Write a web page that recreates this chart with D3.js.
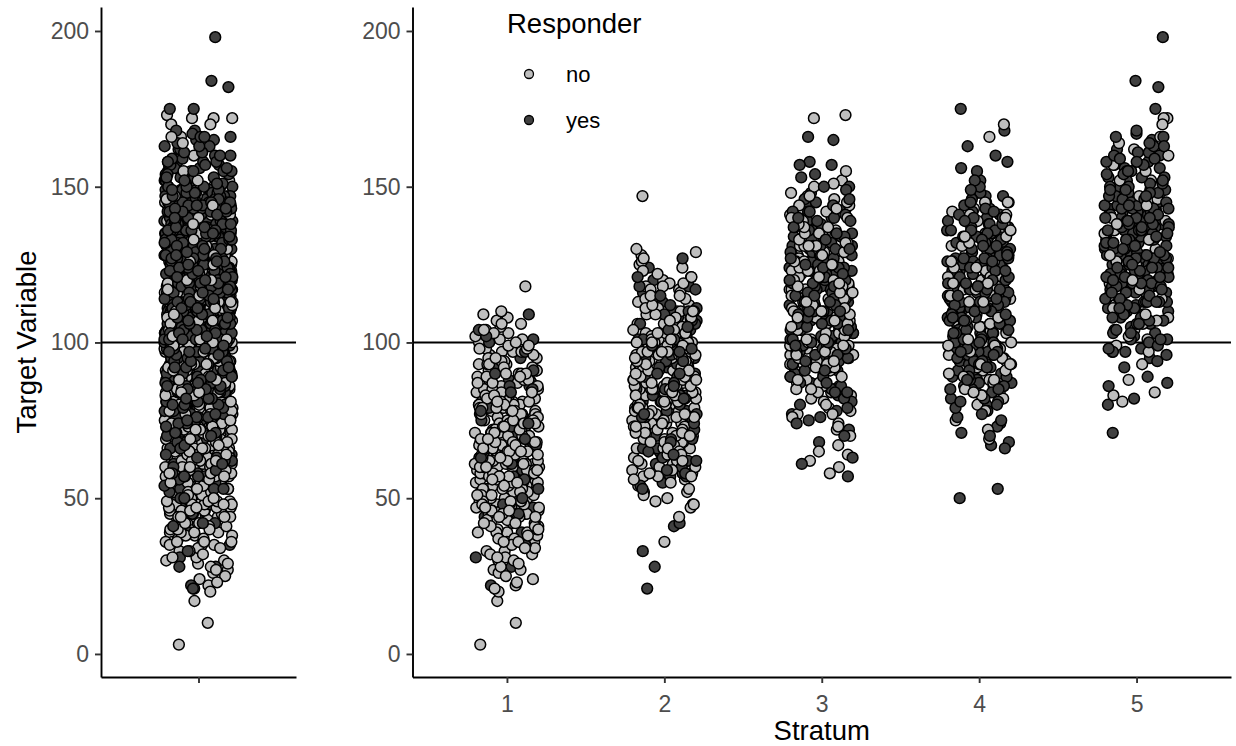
<!DOCTYPE html>
<html>
<head>
<meta charset="utf-8">
<script src="https://cdn.jsdelivr.net/npm/d3@7"></script>
<style>
  body { margin: 0; background: #fff; }
  text { font-family: "Liberation Sans", Arial, sans-serif; }
</style>
</head>
<body>
<svg id="chart" width="1236" height="746"></svg>
<script>
// strata on the x axis
var strata = ["1", "2", "3", "4", "5"];
var yTicks = [0, 50, 100, 150, 200];
var groups = ["no", "yes"];
var refLine = 100;

// target variable values, per stratum and responder group
var s1No = [64,81,47,92,58,71,39,66,103,55,77,44,86,62,97,51,73,35,68,89,
  57,82,42,75,61,99,48,70,30,84,66,53,95,59,78,45,88,63,36,74,
  101,56,69,41,83,60,93,49,76,27,65,87,54,72,38,91,58,80,46,67,
  105,52,79,33,71,63,96,50,85,43,68,57,90,61,74,37,82,48,98,66,
  55,77,29,70,64,94,46,81,59,40,87,53,73,62,100,44,78,35,69,57,
  91,51,84,65,24,75,60,97,47,80,56,42,89,67,71,32,86,54,102,63,
  49,76,39,93,58,68,45,83,61,107,52,74,36,88,64,55,79,43,99,70,
  26,85,57,66,48,92,60,38,77,53,104,67,45,81,59,72,31,95,62,50,
  87,41,73,65,56,97,47,78,34,69,61,90,54,83,44,75,58,106,51,66,
  22,86,63,49,80,39,71,57,94,46,77,64,52,88,35,70,60,101,43,82,
  55,68,28,91,59,74,48,85,65,40,96,53,79,62,33,72,57,89,46,67,
  108,50,84,61,37,76,56,93,44,81,63,70,30,87,54,73,42,98,58,66,
  25,83,51,78,64,47,92,60,39,75,55,103,68,45,86,62,32,80,57,71,
  49,95,41,77,65,53,88,36,69,59,100,48,82,63,27,74,56,90,44,79,
  62,45,79,57,93,68,34,86,51,73,60,98,42,77,66,54,89,38,71,58,
  83,47,64,104,52,75,29,90,61,44,81,69,36,95,56,72,49,87,63,40,
  78,55,99,67,46,84,59,31,74,65,
  3,10,17,20,118,23,110,109,21,106];
var s1Yes = [72,58,95,44,83,66,101,51,77,39,88,62,109,47,70,93,55,31,80,64,
  104,42,75,59,97,28,68,86,53,100,22,61,79,48,90,35,73,57,84,67,
  91,63,45,78,102,56,69,85,50,74];

var s2No = [88,102,74,95,63,110,81,69,117,92,56,85,99,77,124,66,90,107,59,83,
  96,72,113,87,52,101,79,93,68,120,84,61,98,75,106,89,57,115,80,94,
  71,103,86,64,111,78,97,49,91,82,125,67,100,74,88,108,60,95,83,119,
  76,104,70,92,58,113,85,99,65,87,128,79,96,54,102,73,90,109,62,84,
  97,77,116,68,93,81,105,51,89,100,72,122,86,63,94,80,107,57,91,75,
  112,83,98,66,87,104,48,95,78,118,70,101,85,60,92,76,110,69,97,82,
  126,64,89,103,74,93,55,86,106,79,121,67,99,88,61,114,81,95,71,102,
  90,53,108,77,96,84,130,65,100,73,87,111,59,93,80,117,69,98,86,104,
  75,91,62,109,83,97,47,88,78,123,66,94,101,72,85,114,56,96,81,107,
  92,76,103,68,89,115,58,97,84,71,110,80,95,64,100,87,119,73,91,82,
  86,99,71,112,80,93,64,105,89,76,118,83,96,59,101,74,91,108,68,85,
  97,79,115,62,88,103,73,94,81,121,66,90,100,77,110,84,57,95,70,87,
  36,147,129,127,50,48,44];
var s2Yes = [81,95,67,108,74,90,58,101,86,113,63,97,78,120,70,92,55,104,84,99,
  72,116,61,88,106,77,94,52,83,110,69,96,80,124,65,89,102,75,57,93,
  85,118,71,100,62,91,79,107,54,87,98,66,112,76,95,60,84,103,73,127,
  93,70,109,80,62,99,74,88,117,57,85,101,66,94,78,111,53,90,83,106,
  89,72,104,81,96,63,110,85,76,99,58,92,118,69,87,101,79,94,65,107,
  83,74,121,90,98,68,90,82,115,59,97,77,105,64,86,
  21,28,33,41,42];

var s3No = [112,95,128,104,137,86,119,101,146,91,124,108,77,132,115,98,141,88,121,106,
  130,83,117,99,152,110,93,126,72,135,103,118,89,143,107,125,96,114,81,139,
  100,122,67,131,109,94,147,116,85,127,105,120,74,136,97,111,129,87,144,102,
  119,92,133,108,79,124,113,150,98,138,84,115,106,128,90,142,101,123,70,117,
  134,95,111,126,82,148,104,121,93,131,65,114,100,137,88,125,109,119,76,140,
  103,129,91,116,155,97,122,107,86,132,112,62,127,99,145,105,118,94,136,80,
  96,130,108,121,87,139,102,115,73,126,110,144,92,120,84,133,104,117,99,151,
  124,89,112,135,97,118,78,141,106,123,93,129,101,116,85,137,109,120,95,131,
  118,103,135,92,126,110,147,99,121,85,131,107,140,114,96,128,77,123,105,138,
  111,88,132,116,101,143,94,125,108,119,
  113,58,172,173,64,60];
var s3Yes = [108,125,91,140,115,99,133,84,121,104,148,112,77,129,96,137,118,88,123,102,
  143,110,93,131,68,117,106,138,86,126,100,154,113,95,122,81,135,107,119,90,
  128,72,116,103,145,97,124,111,87,139,105,130,92,120,114,157,98,127,83,134,
  109,118,75,142,101,123,94,132,89,115,107,150,96,126,80,136,112,121,99,129,
  85,141,104,117,70,128,110,93,138,119,102,125,88,146,113,97,131,106,122,91,
  134,78,116,108,127,100,144,95,120,87,139,111,103,124,82,130,114,98,149,107,
  119,92,133,105,126,86,142,110,101,121,94,137,76,115,129,99,124,108,140,89,
  113,131,97,122,84,136,106,118,93,128,102,145,74,125,110,89,134,100,119,95,
  116,131,98,142,109,124,87,135,104,120,150,94,128,112,79,139,101,122,91,133,
  115,146,106,127,84,137,99,118,153,110,125,96,140,113,130,
  166,165,158,157,57,61,63];

var s4No = [112,97,128,104,135,88,119,101,143,93,124,108,80,131,116,99,139,90,121,106,
  127,84,117,100,148,110,94,125,75,133,103,118,91,141,107,122,96,114,86,137,
  105,129,92,115,132,98,120,82,126,109,145,95,111,123,87,136,102,117,78,130,
  121,85,110,138,96,116,104,131,91,126,72,118,99,142,108,88,123,113,83,134,
  115,99,132,106,124,90,141,111,97,128,84,119,136,103,121,93,145,108,126,117,
  113,100,119,89,134,107,124,93,140,101,
  170,166,69];
var s4Yes = [108,123,94,136,113,99,129,86,118,104,145,111,80,127,97,140,115,90,121,103,
  132,88,117,106,149,110,95,126,74,135,101,119,92,142,107,124,98,114,84,138,
  100,128,71,116,109,93,147,120,87,131,105,122,78,137,96,112,130,89,144,102,
  118,91,134,108,82,125,114,152,99,139,85,115,106,127,94,141,103,123,76,117,
  133,97,111,126,83,148,104,121,92,130,68,113,100,136,88,125,109,119,79,143,
  105,128,90,116,155,97,122,107,86,132,112,73,127,99,146,101,118,95,137,81,
  114,93,129,106,120,87,140,102,116,77,133,110,96,125,84,138,108,121,91,150,
  98,124,111,89,135,104,119,82,127,100,143,94,117,109,130,86,122,113,75,136,
  112,145,99,119,85,128,106,134,93,117,110,141,80,124,101,132,95,118,108,127,
  116,101,135,110,124,92,142,106,129,97,119,85,138,113,126,100,147,108,121,94,
  133,111,152,103,127,89,140,117,98,131,107,123,81,136,114,145,96,128,109,120,
  156,104,134,118,149,103,126,92,115,107,139,97,123,88,131,
  175,168,163,160,158,50,53,66,67,70];

var s5No = [128,112,145,104,137,119,152,97,133,116,141,108,125,160,101,130,114,148,122,106,
  136,110,143,118,127,99,150,124,113,139,131,107,146,120,93,135,117,155,126,102,
  140,125,157,115,133,162,109,147,128,152,120,138,166,111,144,
  172,172,170,164,81,83,84,88];
var s5Yes = [131,114,148,122,139,105,127,156,118,135,98,143,126,110,151,133,120,141,103,129,
  146,116,137,124,160,108,132,119,144,95,128,153,113,138,121,149,106,134,125,117,
  142,130,101,147,123,136,111,158,127,140,115,131,97,145,120,137,109,152,126,134,
  118,143,104,129,139,122,155,112,133,127,146,100,138,116,125,150,107,136,121,142,
  114,131,96,148,124,135,110,141,128,119,157,103,133,126,144,117,139,92,130,122,
  149,113,137,106,125,145,120,132,99,140,127,154,111,136,118,143,124,102,134,129,
  123,147,108,135,119,142,128,113,151,126,138,104,131,117,146,122,139,97,133,125,
  144,110,129,137,115,153,121,134,101,140,127,118,148,112,136,124,143,106,130,120,
  161,116,135,128,94,145,122,138,109,132,126,150,114,141,119,103,137,131,147,123,
  132,118,140,107,127,144,115,136,124,159,111,133,98,142,121,130,149,113,138,126,
  162,165,158,167,155,163,160,168,157,164,142,127,151,119,138,133,146,124,159,113,
  136,148,121,154,130,143,117,139,161,126,150,108,135,145,123,156,131,141,114,153,
  129,166,144,120,137,152,116,134,147,101,140,125,158,132,149,111,143,128,155,97,
  198,184,182,175,166,163,71,80,82,86,87,89];

var noValues = [s1No, s2No, s3No, s4No, s5No];
var yesValues = [s1Yes, s2Yes, s3Yes, s4Yes, s5Yes];

var fills = { no: "#bebebe", yes: "#404040" };

// interleave the two groups so drawing order is mixed, like the original rows
function mix(stratum, no, yes) {
  var out = [], i = 0, j = 0;
  while (i < no.length || j < yes.length) {
    if (j >= yes.length || (i < no.length && (i + 0.5) / no.length <= (j + 0.5) / yes.length))
      out.push({ stratum: stratum, value: no[i++], group: "no" });
    else
      out.push({ stratum: stratum, value: yes[j++], group: "yes" });
  }
  return out;
}

var rows = [];
strata.forEach(function(s, k) { rows = rows.concat(mix(s, noValues[k], yesValues[k])); });

// fixed pseudo jitter from row index (position only)
function jit(k) {
  var s = Math.sin(k * 12.9898 + 78.233) * 43758.5453;
  return (s - Math.floor(s)) * 2 - 1;
}

var svg = d3.select("#chart");
var panelTop = 7, panelBottom = 677;
var ptR = 5.4;

var y = d3.scaleLinear().domain([-7.4, 207.7]).range([panelBottom, panelTop]);

var xL = d3.scalePoint().domain(["all"]).range([101, 296]).padding(0.6);
var xR = d3.scalePoint().domain(strata).range([412.5, 1231]).padding(0.6);

function drawPanel(x, xOf, seed, jw) {
  var g = svg.append("g");
  var r = x.range();

  g.append("line")
    .attr("x1", r[0]).attr("x2", r[1])
    .attr("y1", y(refLine)).attr("y2", y(refLine))
    .attr("stroke", "#000").attr("stroke-width", 1.9);

  g.selectAll("circle.pt")
    .data(rows)
    .join("circle")
    .attr("class", "pt")
    .attr("cx", function(d, i) { return x(xOf(d)) + jit(i + seed) * jw * x.step(); })
    .attr("cy", function(d) { return y(d.value); })
    .attr("r", ptR)
    .attr("fill", function(d) { return fills[d.group]; })
    .attr("stroke", "#000")
    .attr("stroke-width", 1.5);

  var ya = g.append("g")
    .attr("transform", "translate(" + r[0] + ",0)")
    .call(d3.axisLeft(y).tickValues(yTicks).tickSize(6).tickPadding(6).tickSizeOuter(0));
  var xa = g.append("g")
    .attr("transform", "translate(0," + panelBottom + ")")
    .call(d3.axisBottom(x).tickSize(6).tickPadding(13).tickSizeOuter(0));

  [ya, xa].forEach(function(a) {
    a.select(".domain").attr("stroke", "#000").attr("stroke-width", 1.9);
    a.selectAll(".tick line").attr("stroke", "#333").attr("stroke-width", 1.9);
    a.selectAll(".tick text").attr("fill", "#4d4d4d").style("font-size", "23px");
  });
  return xa;
}

var xaL = drawPanel(xL, function() { return "all"; }, 7000, 0.21);
xaL.selectAll(".tick text").text("");
drawPanel(xR, function(d) { return d.stratum; }, 0, 0.205);

// axis titles
svg.append("text")
  .attr("transform", "translate(36,342) rotate(-90)")
  .attr("text-anchor", "middle")
  .style("font-size", "27.5px")
  .text("Target Variable");

svg.append("text")
  .attr("x", (xR.range()[0] + xR.range()[1]) / 2)
  .attr("y", 740)
  .attr("text-anchor", "middle")
  .style("font-size", "27.5px")
  .text("Stratum");

// legend
var legend = svg.append("g").attr("transform", "translate(507,0)");
legend.append("text").attr("x", 0).attr("y", 33)
  .style("font-size", "27.5px").text("Responder");

var keys = legend.selectAll("g.key").data(groups).join("g")
  .attr("class", "key")
  .attr("transform", function(d, i) { return "translate(0," + (74 + i * 46) + ")"; });
keys.append("circle").attr("cx", 22).attr("cy", 0).attr("r", 4.5)
  .attr("fill", function(d) { return fills[d]; })
  .attr("stroke", "#000").attr("stroke-width", 1.3);
keys.append("text").attr("x", 59).attr("y", 8)
  .style("font-size", "22px").text(function(d) { return d; });
</script>
</body>
</html>
